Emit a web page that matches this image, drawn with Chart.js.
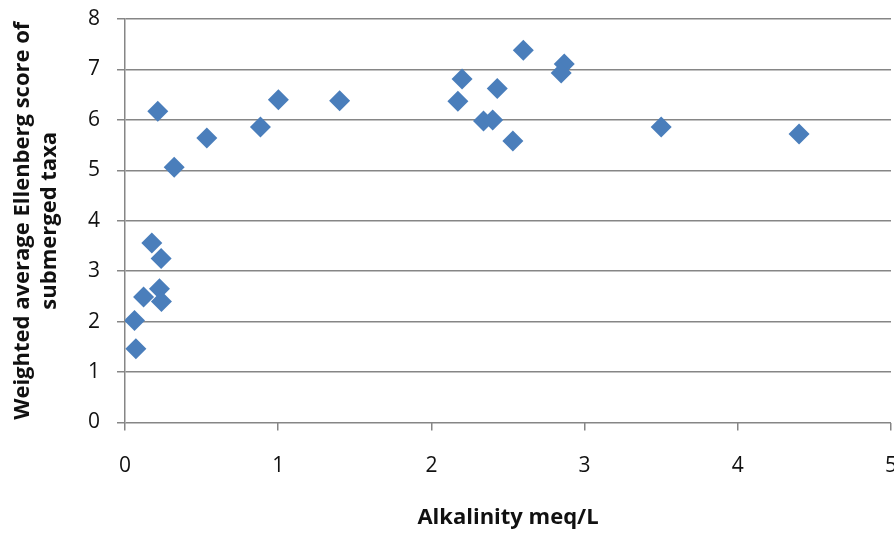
<!DOCTYPE html>
<html>
<head>
<meta charset="utf-8">
<script src="https://cdn.jsdelivr.net/npm/chart.js@4/dist/chart.umd.min.js"></script>
<style>
  html, body { margin: 0; padding: 0; background: #fff; }
</style>
</head>
<body>
<canvas id="scatterChart" width="894" height="534"></canvas>
<script>
// alkalinity (meq/L) and weighted Ellenberg score
const alkalinity = [0.214, 0.321, 0.534, 0.884, 1.001, 1.401,
                    0.175, 0.236, 0.121, 0.225, 0.238, 0.062, 0.071,
                    2.60, 2.867, 2.847, 2.20, 2.43, 2.173, 2.34, 2.40, 2.532, 3.50, 4.40];
const ellenberg = [6.17, 5.06, 5.64, 5.86, 6.40, 6.38,
                   3.56, 3.25, 2.49, 2.65, 2.40, 2.02, 1.46,
                   7.38, 7.11, 6.93, 6.81, 6.62, 6.37, 5.98, 6.00, 5.58, 5.86, 5.72];
const xTicks = [0, 1, 2, 3, 4, 5];
const yTicks = [0, 1, 2, 3, 4, 5, 6, 7, 8];
const xTitle = "Alkalinity meq/L";
const yTitle = ["Weighted average Ellenberg score of", "submerged taxa"];

const points = alkalinity.map((a, i) => ({ x: a, y: ellenberg[i] }));

const gridGray = "#868686";
const tickFont = "'Open Sans', sans-serif";
const titleFont = "'Open Sans', sans-serif";

const ctx = document.getElementById("scatterChart").getContext("2d");
new Chart(ctx, {
    type: "scatter",
    data: {
        datasets: [{
            data: points,
            pointStyle: "rectRot",
            pointRadius: 10.5,
            pointHoverRadius: 10.5,
            backgroundColor: "#4a7ebb",
            borderColor: "#4a7ebb",
            borderWidth: 0
        }]
    },
    options: {
        responsive: false,
        animation: false,
        layout: { autoPadding: false, padding: { top: 19, right: 3, left: 0, bottom: 0 } },
        plugins: {
            legend: { display: false },
            tooltip: { enabled: false }
        },
        scales: {
            x: {
                type: "linear",
                min: 0,
                max: 5,
                afterBuildTicks: s => { s.ticks = xTicks.map(v => ({ value: v })); },
                // keep label overhang out of the layout
                afterFit: s => { s.height = 111.5; s.paddingLeft = 0; s.paddingRight = 0; },
                grid: { drawOnChartArea: false, color: gridGray, lineWidth: 1.5, tickLength: 8 },
                border: { display: false },
                ticks: { color: "#111", padding: 23, font: { family: tickFont, size: 21 } },
                title: {
                    display: true,
                    text: xTitle,
                    color: "#111",
                    padding: { top: 0, bottom: 3 },
                    font: { family: titleFont, size: 22, weight: "bold" }
                }
            },
            y: {
                min: 0,
                max: 8,
                afterBuildTicks: s => { s.ticks = yTicks.map(v => ({ value: v })); },
                afterFit: s => { s.width = 125; s.paddingTop = 0; s.paddingBottom = 0; },
                grid: { color: gridGray, lineWidth: 1.5, tickLength: 8 },
                border: { color: gridGray, width: 1.5 },
                ticks: { color: "#111", padding: 17, font: { family: tickFont, size: 21 } },
                title: {
                    display: true,
                    text: yTitle,
                    color: "#111",
                    padding: { top: 8.5, bottom: 0 },
                    font: { family: titleFont, size: 22, weight: "bold", lineHeight: 1.25 }
                }
            }
        }
    }
});
</script>
</body>
</html>
